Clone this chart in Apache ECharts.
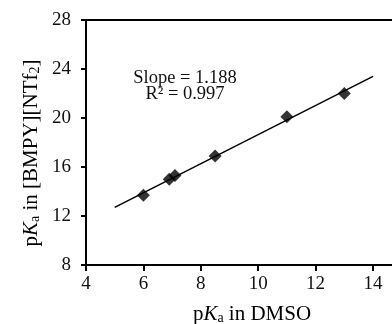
<!DOCTYPE html>
<html>
<head>
<meta charset="utf-8">
<script src="https://cdn.jsdelivr.net/npm/echarts@6/dist/echarts.min.js"></script>
<style>
html,body{margin:0;padding:0;background:#fff;}
#c{width:392px;height:324px;}
</style>
</head>
<body>
<div id="c"></div>
<script>
// Data
var pkaDMSO = [6.0, 6.9, 7.1, 8.5, 11.0, 13.0];
var pkaIL   = [13.7, 15.0, 15.3, 16.9, 20.1, 22.0];
var fitX = [5, 14];
var fitY = [12.71, 23.40];
var xTicks = {min: 4, max: 16, step: 2};
var yTicks = {min: 8, max: 28, step: 4};
var annotation = ['Slope = 1.188', 'R\u00b2 = 0.997'];

var FONT = '"Liberation Serif", "Times New Roman", serif';
var chart = echarts.init(document.getElementById('c'), null, {renderer: 'canvas'});

var scatterData = pkaDMSO.map(function (x, i) { return [x, pkaIL[i]]; });
var lineData = fitX.map(function (x, i) { return [x, fitY[i]]; });

chart.setOption({
  animation: false,
  backgroundColor: '#fff',
  grid: {
    left: 86, top: 20, bottom: 59, right: -38.4,
    outerBoundsMode: 'none', containLabel: false,
    show: true, borderColor: '#000', borderWidth: 2, backgroundColor: 'transparent'
  },
  xAxis: {
    type: 'value', min: xTicks.min, max: xTicks.max, interval: xTicks.step,
    splitLine: {show: false},
    axisLine: {show: true, onZero: false, lineStyle: {color: '#000', width: 2}},
    axisTick: {show: true, inside: false, length: 6, lineStyle: {color: '#000', width: 2}},
    axisLabel: {color: '#111', fontFamily: FONT, fontSize: 19, margin: 10}
  },
  yAxis: {
    type: 'value', min: yTicks.min, max: yTicks.max, interval: yTicks.step,
    splitLine: {show: false},
    axisLine: {show: true, onZero: false, lineStyle: {color: '#000', width: 2}},
    axisTick: {show: true, inside: false, length: 5, lineStyle: {color: '#000', width: 2}},
    axisLabel: {color: '#111', fontFamily: FONT, fontSize: 19, margin: 15}
  },
  series: [
    {
      type: 'line', data: lineData, showSymbol: false, symbol: 'none',
      lineStyle: {color: '#000', width: 1.5}, z: 2
    },
    {
      type: 'scatter', data: scatterData, symbol: 'diamond', symbolSize: 13,
      itemStyle: {color: '#000'}, z: 3
    }
  ],
  graphic: [
    {
      type: 'text', x: 185, y: 86, z: 10,
      style: {
        text: annotation.join('\n'), fill: '#111', font: '18.5px ' + FONT,
        textAlign: 'center', textVerticalAlign: 'middle', lineHeight: 15.5
      }
    },
    {
      type: 'text', x: 252, y: 314, z: 10,
      style: {
        text: '{n|p}{i|K}{s|a}{n| in DMSO}',
        textAlign: 'center', textVerticalAlign: 'middle',
        rich: {
          n: {fontFamily: FONT, fontSize: 21, color: '#111'},
          i: {fontFamily: FONT, fontSize: 21, fontStyle: 'italic', color: '#111'},
          s: {fontFamily: FONT, fontSize: 14, color: '#111', padding: [9, 0, 0, 0]}
        }
      }
    },
    {
      type: 'text', x: 31, y: 153, rotation: Math.PI / 2, z: 10,
      style: {
        text: '{n|p}{i|K}{s|a}{n| in [BMPY][NTf}{s|2}{n|]}',
        textAlign: 'center', textVerticalAlign: 'middle',
        rich: {
          n: {fontFamily: FONT, fontSize: 21, color: '#111'},
          i: {fontFamily: FONT, fontSize: 21, fontStyle: 'italic', color: '#111'},
          s: {fontFamily: FONT, fontSize: 14, color: '#111', padding: [9, 0, 0, 0]}
        }
      }
    }
  ]
});
</script>
</body>
</html>
